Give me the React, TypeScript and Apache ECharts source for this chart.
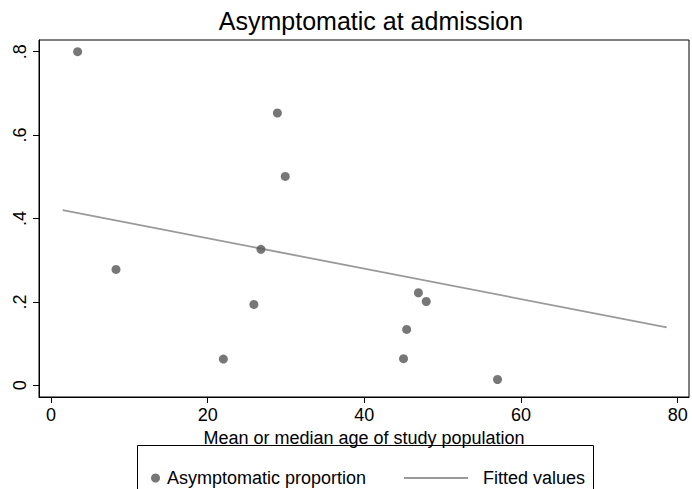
import React, { useEffect, useRef } from "react";
import * as echarts from "echarts";

const ageValues = [3.4, 8.3, 22.0, 25.9, 26.8, 28.9, 29.9, 45.0, 45.4, 46.9, 47.9, 57.0];
const asymptomaticValues = [0.8, 0.278, 0.063, 0.194, 0.326, 0.653, 0.501, 0.064, 0.134, 0.222, 0.201, 0.014];
const fittedAges = [1.5, 78.6];
const fittedValues = [0.42, 0.139];
const xTicks = [0, 20, 40, 60, 80];
const yTicks = [0, 0.2, 0.4, 0.6, 0.8];

const FONT = "Liberation Sans, Arial, sans-serif";

export default function App() {
  const ref = useRef<HTMLDivElement>(null);
  useEffect(() => {
    if (!ref.current) return;
    const chart = echarts.init(ref.current, undefined, { renderer: "svg" });
    const scatterData = ageValues.map((x, i) => [x, asymptomaticValues[i]]);
    const lineData = fittedAges.map((x, i) => [x, fittedValues[i]]);
    chart.setOption({
      animation: false,
      backgroundColor: "#ffffff",
      textStyle: { fontFamily: FONT },
      title: {
        text: "Asymptomatic at admission",
        left: 366,
        top: 3,
        textAlign: "center",
        textStyle: { fontFamily: FONT, fontSize: 25, fontWeight: "normal", color: "#000" },
      },
      grid: {
        left: 39,
        right: 3,
        top: 40,
        bottom: 92,
        show: true,
        borderColor: "#000",
        borderWidth: 1,
        backgroundColor: "#fff",
      },
      xAxis: {
        type: "value",
        min: -1.53,
        max: 81.44,
        name: "Mean or median age of study population",
        nameLocation: "middle",
        nameGap: 26,
        nameTextStyle: { fontFamily: FONT, fontSize: 18, color: "#000" },
        axisLine: { show: true, onZero: false, lineStyle: { color: "#000", width: 1 } },
        axisTick: { show: true, length: 6, customValues: xTicks, lineStyle: { color: "#000" } },
        axisLabel: { customValues: xTicks, fontFamily: FONT, fontSize: 18, color: "#000", margin: 9 },
        splitLine: { show: false },
      },
      yAxis: {
        type: "value",
        min: -0.028,
        max: 0.828,
        axisLine: { show: true, onZero: false, lineStyle: { color: "#000", width: 1 } },
        axisTick: { show: true, length: 6, customValues: yTicks, lineStyle: { color: "#000" } },
        axisLabel: {
          customValues: yTicks,
          rotate: 90,
          fontFamily: FONT,
          fontSize: 18,
          color: "#000",
          margin: 10,
          formatter: (v: number) => (v === 0 ? "0" : String(+v.toFixed(1)).replace(/^0/, "")),
        },
        splitLine: { show: false },
      },
      legend: [
        {
          data: [{ name: "Asymptomatic proportion", icon: "circle" }],
          left: 146,
          top: 464,
          itemWidth: 9,
          itemHeight: 9,
          textStyle: { fontFamily: FONT, fontSize: 18, color: "#000", padding: [0, 0, 0, 2] },
        },
        {
          data: [{ name: "Fitted values", icon: "rect" }],
          left: 399,
          top: 464,
          itemWidth: 64,
          itemHeight: 2,
          textStyle: { fontFamily: FONT, fontSize: 18, color: "#000", padding: [0, 0, 0, 10] },
        },
      ],
      graphic: [
        {
          type: "rect",
          shape: { x: 137.5, y: 445.5, width: 456, height: 60 },
          style: { fill: "none", stroke: "#000", lineWidth: 1 },
          silent: true,
        },
      ],
      series: [
        {
          name: "Asymptomatic proportion",
          type: "scatter",
          data: scatterData,
          symbol: "circle",
          symbolSize: 9,
          itemStyle: { color: "#555555" },
          z: 3,
        },
        {
          name: "Fitted values",
          type: "line",
          data: lineData,
          symbol: "none",
          lineStyle: { color: "#9a9a9a", width: 1.8 },
          itemStyle: { color: "#9a9a9a" },
          z: 2,
        },
      ],
    });
    return () => chart.dispose();
  }, []);
  return (
    <div
      ref={ref}
      style={{ position: "fixed", left: 0, top: 0, width: 692, height: 489, background: "#fff" }}
    />
  );
}
